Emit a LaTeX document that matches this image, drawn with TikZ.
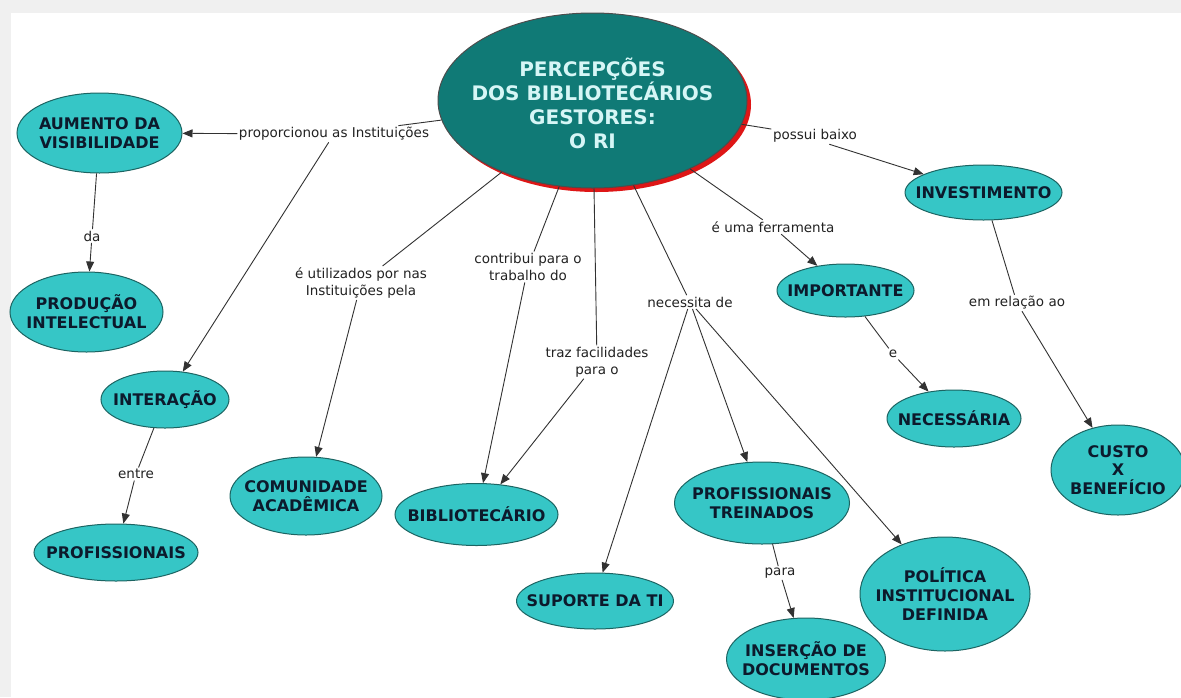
\documentclass[tikz,border=0pt]{standalone}
\usepackage{fontspec}
\setmainfont{DejaVu Sans}
\usetikzlibrary{shapes.geometric,arrows.meta}
\definecolor{nodefill}{RGB}{54,198,198}
\definecolor{nodeline}{RGB}{28,100,98}
\definecolor{nodetext}{RGB}{12,26,44}
\definecolor{mainfill}{RGB}{16,122,118}
\definecolor{maintext}{RGB}{214,246,246}
\definecolor{shadowred}{RGB}{222,22,22}
\definecolor{linkcol}{RGB}{50,50,50}
\definecolor{lbltext}{RGB}{34,34,34}
\definecolor{framegray}{RGB}{240,240,240}
\tikzset{
 concept/.style 2 args={ellipse, draw=nodeline, fill=nodefill, line width=1pt, inner sep=0pt, minimum width=#1pt, minimum height=#2pt},
 ctext/.style={text=nodetext, font=\fontsize{16}{18.8}\selectfont\bfseries, align=center, inner sep=0pt},
 maintxt/.style={text=maintext, font=\fontsize{20}{24}\selectfont\bfseries, align=center, inner sep=0pt},
 lbl/.style={text=lbltext, font=\fontsize{13.5}{17}\selectfont, align=center, inner sep=1.5pt},
 link/.style={draw=linkcol, line width=0.9pt},
 arr/.style={link, -{Triangle[length=10pt,width=8pt]}},
}
\begin{document}
\begin{tikzpicture}[x=1pt,y=-1pt]
\useasboundingbox (0,0) rectangle (1181,697);
\fill[framegray] (0,0) rectangle (1181,697);
\fill[white] (11,13) rectangle (1181,697);

% main concept
\node[ellipse, fill=shadowred, minimum width=309pt, minimum height=175pt, inner sep=0pt] (mainshadow) at (596.5,104.5) {};
\node[ellipse, draw=black!70, fill=mainfill, line width=1pt, minimum width=309pt, minimum height=175pt, inner sep=0pt,
      label={[maintxt, yshift=-2.5pt]center:{PERCEPÇÕES\\DOS BIBLIOTECÁRIOS\\GESTORES:\\O RI}}] (main) at (592.5,100.5) {};

% concepts
\node[concept={165}{80}, label={[ctext]center:{AUMENTO DA\\VISIBILIDADE}}] (aum) at (99.5,133) {};
\node[concept={153}{80}, label={[ctext]center:{PRODUÇÃO\\INTELECTUAL}}] (prod) at (86.5,312) {};
\node[concept={128}{57}, label={[ctext]center:{INTERAÇÃO}}] (inter) at (165,399.5) {};
\node[concept={164}{57}, label={[ctext]center:{PROFISSIONAIS}}] (prof) at (116,552.5) {};
\node[concept={152}{78}, label={[ctext]center:{COMUNIDADE\\ACADÊMICA}}] (comu) at (306,496) {};
\node[concept={163}{62}, label={[ctext]center:{BIBLIOTECÁRIO}}] (bib) at (476.5,514.5) {};
\node[concept={157}{56}, label={[ctext]center:{SUPORTE DA TI}}] (sup) at (595,601) {};
\node[concept={175}{82}, label={[ctext]center:{PROFISSIONAIS\\TREINADOS}}] (trei) at (762,503) {};
\node[concept={159}{82}, label={[ctext]center:{INSERÇÃO DE\\DOCUMENTOS}}] (ins) at (806,659) {};
\node[concept={170}{114}, label={[ctext]center:{POLÍTICA\\INSTITUCIONAL\\DEFINIDA}}] (pol) at (945,594) {};
\node[concept={137}{53}, label={[ctext]center:{IMPORTANTE}}] (imp) at (845.5,290.5) {};
\node[concept={134}{57}, label={[ctext]center:{NECESSÁRIA}}] (nec) at (954,418.5) {};
\node[concept={157}{55}, label={[ctext]center:{INVESTIMENTO}}] (inv) at (983.5,192.5) {};
\node[concept={134}{90}, label={[ctext]center:{CUSTO\\X\\BENEFÍCIO}}] (custo) at (1118,470) {};

% linking phrases
\node[lbl] (l1) at (334,134) {proporcionou as Instituições};
\node[lbl] (lda) at (92,236) {da};
\node[lbl] (l2) at (361,283) {é utilizados por nas\\Instituições pela};
\node[lbl] (l3) at (528,267) {contribui para o\\trabalho do};
\node[lbl] (l4) at (597,362) {traz facilidades\\para o};
\node[lbl] (l5) at (690,302) {necessita de};
\node[lbl] (l6) at (773,227) {é uma ferramenta};
\node[lbl] (l7) at (815,136) {possui baixo};
\node[lbl] (l8) at (1017,303) {em relação ao};
\node[lbl] (l9) at (893,354) {e};
\node[lbl] (l10) at (136,474) {entre};
\node[lbl] (l11) at (780,573) {para};

% connectors
\draw[link] (main) -- (l1);
\draw[arr] (l1) -- (aum);
\draw[arr] (l1) -- (inter);
\draw[link] (aum) -- (lda);
\draw[arr] (lda) -- (prod);
\draw[link] (main) -- (l2);
\draw[arr] (l2) -- (comu);
\draw[link] (main) -- (l3);
\draw[arr] (l3) -- (bib);
\draw[link] (main) -- (l4);
\draw[arr] (l4) -- (bib);
\draw[link] (main) -- (l5);
\draw[arr] (l5) -- (sup.75);
\draw[arr] (l5) -- (trei);
\draw[arr] (l5) -- (pol);
\draw[link] (main) -- (l6);
\draw[arr] (l6) -- (imp);
\draw[link] (main) -- (l7);
\draw[arr] (l7.-30) -- (inv.163);
\draw[link] (inv) -- (l8);
\draw[arr] (l8) -- (custo);
\draw[link] (imp) -- (l9);
\draw[arr] (l9) -- (nec);
\draw[link] (inter) -- (l10);
\draw[arr] (l10) -- (prof);
\draw[link] (trei) -- (l11);
\draw[arr] (l11) -- (ins);
\end{tikzpicture}
\end{document}
